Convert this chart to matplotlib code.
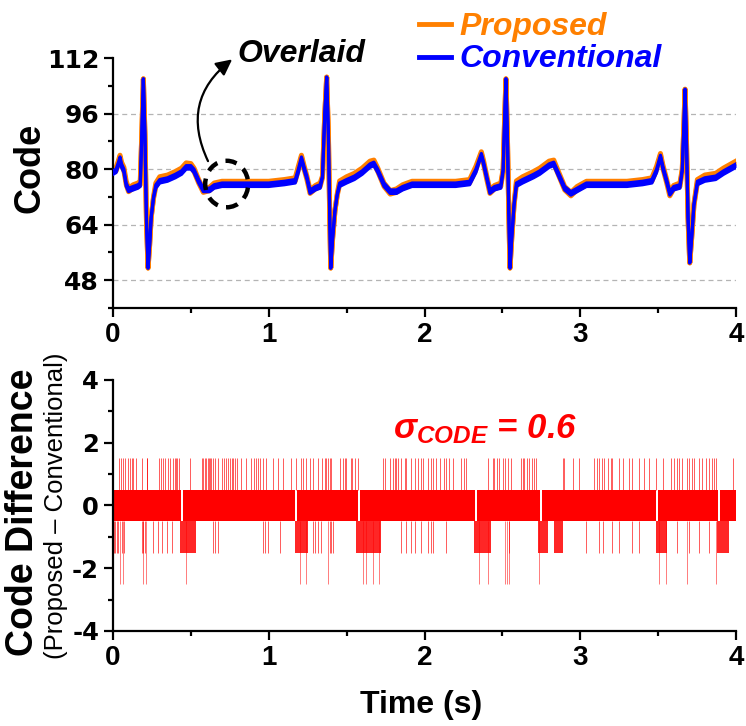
import matplotlib
matplotlib.use("Agg")
import matplotlib.pyplot as plt
from matplotlib.patches import Ellipse
from matplotlib.lines import Line2D
from matplotlib.ticker import MultipleLocator

plt.rcParams["font.family"] = ["Liberation Sans", "DejaVu Sans"]
plt.rcParams["font.weight"] = "bold"
plt.rcParams["xtick.labelsize"] = 20
plt.rcParams["ytick.labelsize"] = 20
plt.rcParams["axes.unicode_minus"] = False
plt.rcParams["mathtext.fontset"] = "custom"
plt.rcParams["mathtext.rm"] = "Liberation Sans:bold:italic"
plt.rcParams["mathtext.it"] = "Liberation Sans:bold:italic"
plt.rcParams["mathtext.bf"] = "Liberation Sans:bold:italic"

# ---------------- ECG codes (time in s) ----------------
ecg_t = [
    0.00, 0.02, 0.035, 0.045, 0.055, 0.07, 0.085, 0.10, 0.13, 0.16, 0.175,
    0.185, 0.195, 0.205, 0.215, 0.225, 0.235, 0.245, 0.26, 0.275, 0.30, 0.35,
    0.40, 0.44, 0.47, 0.50, 0.52, 0.55, 0.58, 0.62, 0.65, 0.70, 0.80, 0.90,
    1.00, 1.10, 1.17, 1.19, 1.21, 1.225, 1.245, 1.265, 1.30, 1.33, 1.345,
    1.36, 1.372, 1.383, 1.392, 1.398, 1.41, 1.425, 1.44, 1.455, 1.50, 1.55,
    1.60, 1.65, 1.675, 1.70, 1.74, 1.78, 1.82, 1.86, 1.92, 2.00, 2.10, 2.20,
    2.29, 2.33, 2.365, 2.38, 2.40, 2.42, 2.45, 2.49, 2.505, 2.515, 2.523,
    2.532, 2.541, 2.549, 2.56, 2.575, 2.59, 2.63, 2.70, 2.74, 2.80, 2.83,
    2.86, 2.90, 2.94, 2.98, 3.04, 3.10, 3.20, 3.30, 3.40, 3.46, 3.49, 3.515,
    3.53, 3.555, 3.575, 3.60, 3.64, 3.655, 3.665, 3.673, 3.682, 3.692, 3.703,
    3.715, 3.73, 3.752, 3.80, 3.87, 3.92, 3.96, 4.00,
]
conventional_code = [
    79.5, 80, 82, 83.5, 81.5, 80, 76, 74.5, 75, 75.5, 76,
    90, 106, 90, 65, 51.5, 58, 66, 72, 75.5, 77, 77.5,
    78.5, 79.5, 81, 81, 80, 77, 74.5, 74.5, 75.5, 76, 76, 76,
    76, 76.5, 77, 80, 83.5, 81, 78, 74, 75, 75.5, 78,
    96, 106.5, 90, 65, 51.5, 60, 68, 73, 76, 77, 78,
    79.5, 81.5, 82, 80, 76, 74, 74, 75, 76, 76, 76, 76,
    76.5, 80, 84.5, 82, 78, 74, 75, 75.5, 80, 95, 106,
    90, 68, 51.5, 60, 70, 76, 77, 78.5, 79.5, 81.5, 82,
    79, 75, 73.5, 74.5, 76, 76, 76, 76, 76.5, 77, 80, 84,
    81, 77, 73.5, 75, 75.5, 80, 92, 103, 88, 66, 53,
    60, 70, 76.5, 77.5, 78, 79.5, 80.5, 81.5,
]
proposed_code = [
    80, 80.5, 82.5, 84, 82, 80.5, 76.5, 74.5, 75.5, 76, 76.5,
    90, 106, 90, 65, 51.5, 58, 66, 72, 76, 77.8, 78.3,
    79.3, 80.3, 81.8, 81.6, 80.3, 77, 74.3, 74.8, 76, 76.5, 76.5, 76.5,
    76.5, 77, 77.5, 80.8, 84, 81.3, 78, 74, 75.3, 76, 78,
    96, 106.5, 90, 65, 51.5, 60, 68, 73, 76.6, 77.8, 78.8,
    80.3, 82.3, 82.6, 80.3, 76, 73.8, 74.3, 75.5, 76.5, 76.5, 76.5, 76.5,
    77, 80.8, 85, 82.3, 78, 74, 75.3, 76, 80, 95, 106,
    90, 68, 51.5, 60, 70, 76.6, 77.8, 79.3, 80.3, 82.3, 82.6,
    79.3, 75, 73.3, 75, 76.5, 76.5, 76.5, 76.5, 77, 77.5, 80.8, 84.5,
    81.3, 77, 73.3, 75.3, 76, 80, 92, 103, 88, 66, 53,
    60, 70, 77, 78.3, 78.8, 80.3, 81.3, 82.3,
]
# depth of the +/-1 LSB toggling around each point (0 on the fast QRS edges)
code_toggle = [
    1, 1, 1, 0.5, 1, 1, 1, 1, 1, 1, 1,
    0, 0, 0, 0, 0, 0, 0, 0.5, 1, 1, 1,
    1, 1, 1, 1, 1, 1, 1, 1, 1, 1, 1, 1,
    1, 1, 1, 1, 0.5, 1, 1, 1, 1, 1, 0.5,
    0, 0, 0, 0, 0, 0, 0, 0.5, 1, 1, 1,
    1, 1, 1, 1, 1, 1, 1, 1, 1, 1, 1, 1,
    1, 1, 0.5, 1, 1, 1, 1, 1, 0.5, 0, 0,
    0, 0, 0, 0, 0.5, 1, 1, 1, 1, 1, 1,
    1, 1, 1, 1, 1, 1, 1, 1, 1, 1, 1, 0.5,
    1, 1, 1, 1, 1, 0.5, 0, 0, 0, 0, 0,
    0, 0.5, 1, 1, 1, 1, 1, 1,
]
code_grid = [48, 64, 80, 96]

# ---------------- code difference (Proposed - Conventional) ----------------
band_gaps = [(0.436, 0.452), (1.170, 1.181), (1.570, 1.588), (2.325, 2.336),
             (2.741, 2.752), (3.489, 3.500), (3.884, 3.895)]
low_band_spans = [(0.429, 0.536), (1.167, 1.252), (1.562, 1.722),
                  (2.321, 2.429), (2.726, 2.790), (2.833, 2.887),
                  (3.485, 3.560), (3.880, 3.955)]
spike_up_t = [
    0.041, 0.049, 0.062, 0.077, 0.098, 0.109, 0.120, 0.130, 0.147, 0.184,
    0.216, 0.220, 0.297, 0.308, 0.318, 0.333, 0.355, 0.365, 0.387, 0.397,
    0.404, 0.412, 0.423, 0.494, 0.573, 0.579, 0.592, 0.600, 0.607, 0.618,
    0.626, 0.632, 0.643, 0.654, 0.675, 0.697, 0.712, 0.724, 0.739, 0.750,
    0.761, 0.771, 0.786, 0.797, 0.825, 0.857, 0.889, 0.904, 0.917, 0.932,
    0.947, 0.964, 0.985, 1.028, 1.060, 1.092, 1.145, 1.177, 1.209, 1.220,
    1.237, 1.263, 1.284, 1.316, 1.344, 1.359, 1.370, 1.380, 1.391, 1.402,
    1.455, 1.476, 1.487, 1.498, 1.530, 1.536, 1.551, 1.573, 1.733, 1.744,
    1.776, 1.797, 1.808, 1.818, 1.829, 1.850, 1.872, 1.882, 1.915, 1.936,
    1.957, 1.979, 1.989, 2.021, 2.043, 2.053, 2.075, 2.100, 2.122, 2.139,
    2.156, 2.182, 2.235, 2.256, 2.267, 2.406, 2.438, 2.449, 2.464, 2.481,
    2.502, 2.519, 2.534, 2.556, 2.620, 2.630, 2.641, 2.656, 2.673, 2.690,
    2.705, 2.716, 2.887, 2.897, 2.951, 2.994, 3.090, 3.105, 3.122, 3.139,
    3.154, 3.175, 3.197, 3.207, 3.250, 3.276, 3.310, 3.335, 3.378, 3.410,
    3.442, 3.485, 3.532, 3.581, 3.603, 3.618, 3.635, 3.652, 3.688, 3.699,
    3.720, 3.731, 3.763, 3.784, 3.806, 3.827, 3.848, 3.859, 3.870, 3.983,
]
spike_down1_t = [
    0.005, 0.015, 0.025, 0.034, 0.056, 0.070, 0.184, 0.194, 0.205, 0.259,
    0.291, 0.312, 0.344, 0.376, 0.643, 0.654, 0.675, 0.964, 0.974, 0.996,
    1.071, 1.284, 1.295, 1.316, 1.338, 1.391, 1.402, 1.412, 1.850, 1.882,
    1.915, 1.936, 1.979, 2.021, 2.043, 2.053, 2.139, 2.545, 3.036, 3.122,
    3.143, 3.207, 3.250, 3.335, 3.378, 3.624, 3.699, 3.763, 3.827,
]
spike_down2_t = [
    0.045, 0.066, 0.190, 0.210, 0.468, 1.199, 1.241, 1.380, 1.605, 1.626,
    1.669, 1.707, 2.353, 2.406, 2.519, 2.528, 2.541, 2.737, 3.506, 3.549,
    3.688, 3.870,
]
sigma_code = 0.6

time_ticks = [0, 1, 2, 3, 4]
code_ticks = [48, 64, 80, 96, 112]
diff_ticks = [-4, -2, 0, 2, 4]

ORANGE = "#FF8000"
BLUE = "#0000FF"
RED = "#FF0000"

W, H = 746, 726
fig = plt.figure(figsize=(W / 100, H / 100), dpi=100)
ax1 = fig.add_axes([113 / W, 1 - 308 / H, 623 / W, 250 / H])
ax2 = fig.add_axes([113 / W, 1 - 631 / H, 623 / W, 251 / H])


def style_axes(ax, ysize):
    for s in ("top", "right"):
        ax.spines[s].set_visible(False)
    for s in ("left", "bottom"):
        ax.spines[s].set_linewidth(1.6)
    ax.tick_params(which="major", direction="out", length=6.5, width=1.6,
                   pad=3.5)
    ax.tick_params(which="minor", direction="out", length=3.5, width=1.6)
    ax.set_xlim(0, 4)
    ax.set_xticks(time_ticks)
    ax.xaxis.set_minor_locator(MultipleLocator(0.5))
    for lab in ax.get_yticklabels():
        lab.set_family(["DejaVu Sans"])
        lab.set_fontsize(ysize)


# ---- top: codes ----
ax1.hlines(code_grid, 0, 4, colors="#b4b4b4", linestyles=(0, (4, 3)), lw=0.9,
           zorder=0)
conv_low = [c - d for c, d in zip(conventional_code, code_toggle)]
prop_low = [c - d for c, d in zip(proposed_code, code_toggle)]
ax1.fill_between(ecg_t, prop_low, proposed_code, color=ORANGE, lw=0, zorder=2)
ax1.plot(ecg_t, proposed_code, color=ORANGE, lw=3.6, zorder=2)
ax1.plot(ecg_t, prop_low, color=ORANGE, lw=3.6, zorder=2)
ax1.fill_between(ecg_t, conv_low, conventional_code, color=BLUE, lw=0, zorder=3)
ax1.plot(ecg_t, conventional_code, color=BLUE, lw=2.3, zorder=3)
ax1.plot(ecg_t, conv_low, color=BLUE, lw=2.3, zorder=3)
ax1.set_ylim(40, 112)
ax1.set_yticks(code_ticks)
ax1.yaxis.set_minor_locator(MultipleLocator(8))
style_axes(ax1, 18)

ell = Ellipse((0.73, 75.7), 0.276, 13.4, fill=False, ec="black", lw=3.2,
              ls=(0, (2.6, 1.9)), zorder=5)
ax1.add_patch(ell)
ax1.annotate("", xy=(0.765, 111.6), xytext=(0.61, 82.3),
             arrowprops=dict(arrowstyle="-|>", color="black", lw=1.6,
                             mutation_scale=24,
                             connectionstyle="arc3,rad=-0.4",
                             shrinkA=0, shrinkB=0),
             annotation_clip=False, zorder=6)
ax1.text(0.199, 0.984, "Overlaid", transform=ax1.transAxes, fontsize=23,
         fontstyle="italic", ha="left", va="baseline", clip_on=False)

# legend
for y_line, y_base, name, col in ((24, 35, "Proposed", ORANGE),
                                  (57, 67, "Conventional", BLUE)):
    fig.add_artist(Line2D([419 / W, 451 / W], [1 - y_line / H] * 2, color=col,
                          lw=3.5))
    fig.text(459 / W, 1 - y_base / H, name, color=col, fontsize=23,
             fontstyle="italic", ha="left", va="baseline")

# ---- bottom: difference ----
edges = [0.0]
for a, b in band_gaps:
    edges += [a, b]
edges.append(4.0)
for a, b in zip(edges[0::2], edges[1::2]):
    ax2.fill_between([a, b], -0.5, 0.5, color=RED, lw=0, zorder=2)
for a, b in low_band_spans:
    ax2.fill_between([a, b], -1.5, -0.5, color=RED, lw=0, alpha=0.85, zorder=2)
ax2.vlines(spike_up_t, 0.5, 1.5, colors=RED, lw=0.6, alpha=0.75, zorder=2)
ax2.vlines(spike_down1_t, -1.5, -0.5, colors=RED, lw=0.6, alpha=0.75, zorder=2)
ax2.vlines(spike_down2_t, -2.5, -0.5, colors=RED, lw=0.6, alpha=0.6, zorder=2)
ax2.set_ylim(-4, 4)
ax2.set_yticks(diff_ticks)
ax2.yaxis.set_minor_locator(MultipleLocator(1))
style_axes(ax2, 17.5)

ax2.text(0.449, 0.769, r"$\sigma_{CODE}$ = " + f"{sigma_code}",
         transform=ax2.transAxes, color=RED, fontsize=25,
         fontstyle="italic", ha="left", va="baseline")

# axis titles
fig.text(30 / W, 1 - 168 / H, "Code", rotation=90, fontsize=26,
         ha="center", va="center")
fig.text(23.5 / W, 1 - 512.5 / H, "Code Difference", rotation=90, fontsize=27,
         ha="center", va="center")
fig.text(56.5 / W, 1 - 505.5 / H, "(Proposed \u2013 Conventional)", rotation=90,
         fontsize=18.5, fontweight="normal", ha="center", va="center")
fig.text(421.5 / W, 1 - 713 / H, "Time (s)", fontsize=23,
         ha="center", va="baseline")

fig.savefig("out.png", dpi=100)
